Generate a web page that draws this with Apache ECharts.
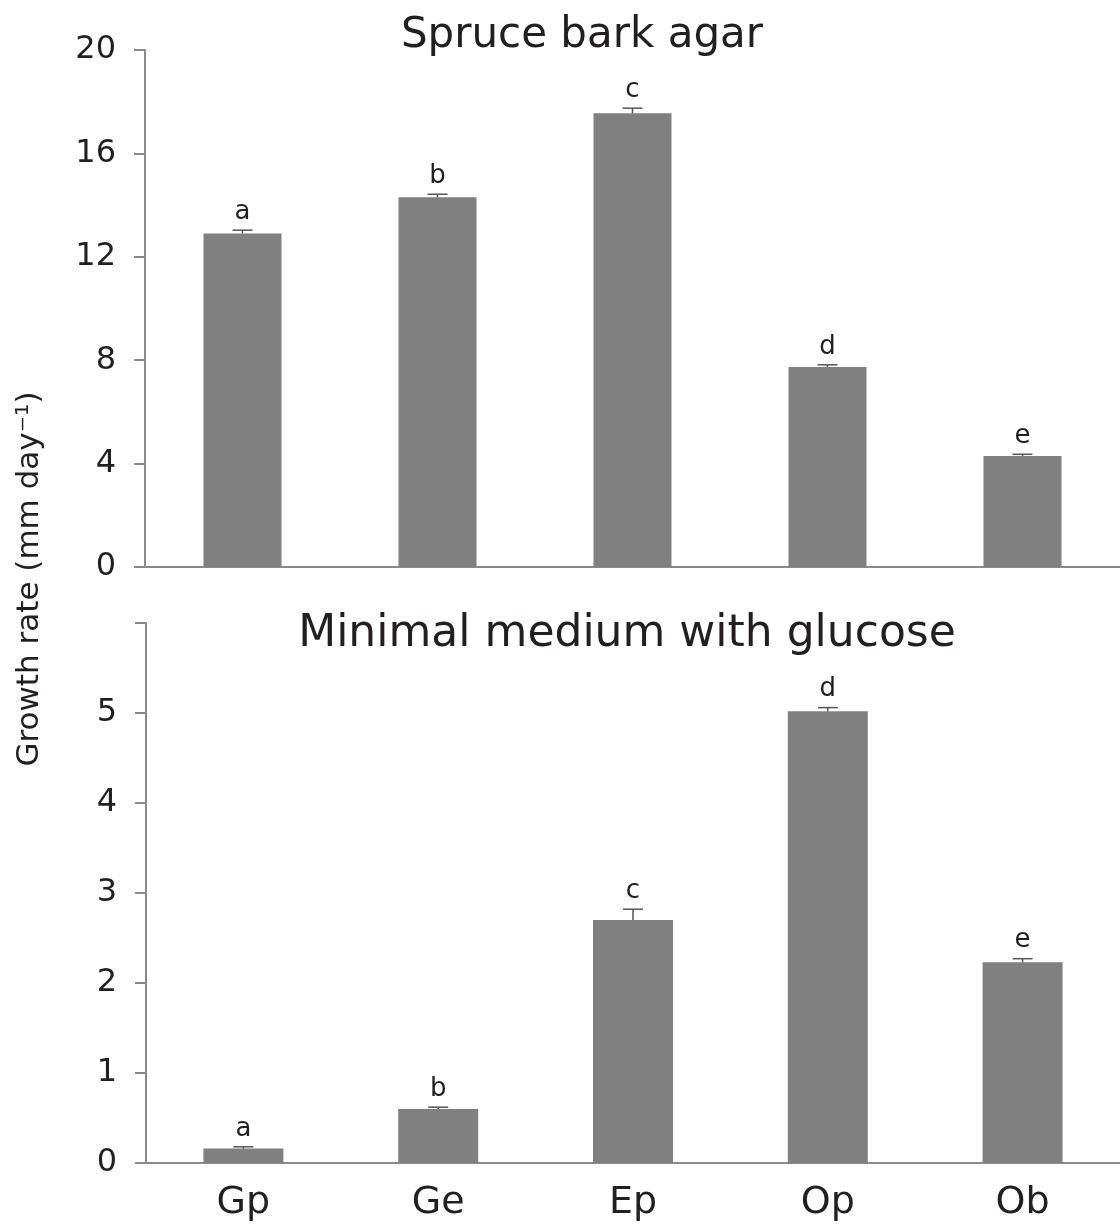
<!DOCTYPE html>
<html>
<head>
<meta charset="utf-8">
<script src="https://cdn.jsdelivr.net/npm/echarts@6/dist/echarts.min.js"></script>
<style>
html,body{margin:0;padding:0;background:#fff;}
#chart{width:1120px;height:1229px;}
</style>
</head>
<body>
<div id="chart"></div>
<script>
const categories = ['Gp', 'Ge', 'Ep', 'Op', 'Ob'];
const spruceValues = [12.9, 14.3, 17.55, 7.74, 4.29];
const spruceErrors = [0.13, 0.12, 0.2, 0.08, 0.07];
const spruceLetters = ['a', 'b', 'c', 'd', 'e'];
const glucoseValues = [0.16, 0.6, 2.7, 5.02, 2.23];
const glucoseErrors = [0.02, 0.02, 0.12, 0.04, 0.04];
const glucoseLetters = ['a', 'b', 'c', 'd', 'e'];
const spruceTitle = 'Spruce bark agar';
const glucoseTitle = 'Minimal medium with glucose';
const yAxisName = 'Growth rate (mm day⁻¹)';

const FONT = '"DejaVu Sans", sans-serif';
const AXIS_COLOR = '#8a8a8a';
const BAR_COLOR = '#808080';
const TEXT_COLOR = '#231f20';

function errorSeries(xi, yi, values, errors, letters) {
  return {
    type: 'custom',
    xAxisIndex: xi,
    yAxisIndex: yi,
    data: values.map((v, i) => [i, v, errors[i]]),
    z: 5,
    renderItem: function (params, api) {
      const i = api.value(0);
      const v = api.value(1);
      const e = api.value(2);
      const letter = letters[i];
      const base = api.coord([i, v]);
      const top = api.coord([i, v + e]);
      const hw = 10;
      return {
        type: 'group',
        children: [
          { type: 'line', shape: { x1: base[0], y1: base[1], x2: top[0], y2: top[1] }, style: { stroke: '#555', lineWidth: 1.5 } },
          { type: 'line', shape: { x1: top[0] - hw, y1: top[1], x2: top[0] + hw, y2: top[1] }, style: { stroke: '#555', lineWidth: 1.5 } },
          { type: 'text', x: top[0], y: top[1] - 5, style: { text: letter, fill: TEXT_COLOR, font: '26px ' + FONT, align: 'center', verticalAlign: 'bottom' } }
        ]
      };
    }
  };
}

function makeYAxis(gi, max, interval) {
  return {
    type: 'value',
    gridIndex: gi,
    min: 0,
    max: max,
    interval: interval,
    axisLine: { show: true, lineStyle: { color: AXIS_COLOR, width: 2 } },
    axisTick: { show: true, inside: false, length: 11, lineStyle: { color: AXIS_COLOR, width: 2 } },
    axisLabel: {
      color: TEXT_COLOR, fontSize: 32, fontFamily: FONT, margin: 29,
      formatter: function (v) { return (gi === 1 && v === 6) ? '' : String(v); }
    },
    splitLine: { show: false }
  };
}

function makeXAxis(gi, showLabels) {
  return {
    type: 'category',
    gridIndex: gi,
    data: categories,
    axisLine: { show: true, lineStyle: { color: AXIS_COLOR, width: 2 } },
    axisTick: { show: false },
    axisLabel: { show: showLabels, color: TEXT_COLOR, fontSize: 38, fontFamily: FONT, margin: 21 }
  };
}

const chart = echarts.init(document.getElementById('chart'));
chart.setOption({
  backgroundColor: '#ffffff',
  animation: false,
  title: [
    { text: spruceTitle, left: 577, top: 10, textAlign: 'center', textStyle: { fontSize: 42, fontWeight: 'normal', color: TEXT_COLOR, fontFamily: FONT } },
    { text: glucoseTitle, left: 622, top: 608, textAlign: 'center', textStyle: { fontSize: 44, fontWeight: 'normal', color: TEXT_COLOR, fontFamily: FONT } }
  ],
  grid: [
    { left: 145, top: 50, width: 975, height: 517 },
    { left: 146, top: 623, width: 974, height: 540 }
  ],
  xAxis: [makeXAxis(0, false), makeXAxis(1, true)],
  yAxis: [makeYAxis(0, 20, 4), makeYAxis(1, 6, 1)],
  graphic: [
    {
      type: 'text',
      x: 30, y: 579,
      rotation: Math.PI / 2,
      style: { text: yAxisName, fill: TEXT_COLOR, font: '31px ' + FONT, align: 'center', verticalAlign: 'middle' }
    }
  ],
  series: [
    { type: 'bar', xAxisIndex: 0, yAxisIndex: 0, data: spruceValues, barWidth: 78, itemStyle: { color: BAR_COLOR } },
    errorSeries(0, 0, spruceValues, spruceErrors, spruceLetters),
    { type: 'bar', xAxisIndex: 1, yAxisIndex: 1, data: glucoseValues, barWidth: 80, itemStyle: { color: BAR_COLOR } },
    errorSeries(1, 1, glucoseValues, glucoseErrors, glucoseLetters)
  ]
});
</script>
</body>
</html>
